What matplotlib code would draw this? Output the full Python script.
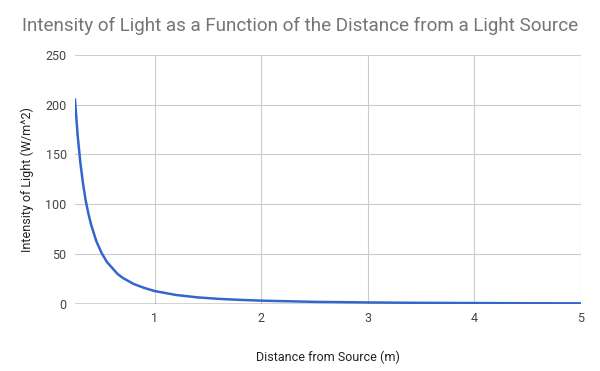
import matplotlib
matplotlib.use('Agg')
import matplotlib.pyplot as plt

plt.rcParams['font.family'] = ['Roboto', 'DejaVu Sans']

# values
distance = [0.25, 0.275, 0.3, 0.325, 0.35, 0.375, 0.4, 0.45, 0.5, 0.55, 0.6, 0.65,
            0.7, 0.75, 0.8, 0.9, 1.0, 1.2, 1.4, 1.6, 1.8, 2.0, 2.5, 3.0, 3.5,
            4.0, 4.5, 5.0]
intensity = [205, 169, 142, 121, 104, 91, 80, 63, 51, 42, 36, 30,
             26, 23, 20, 16, 12.8, 8.9, 6.5, 5.0, 4.0, 3.2, 2.0, 1.4, 1.0,
             0.8, 0.6, 0.5]
xticks = [1, 2, 3, 4, 5]
yticks = [0, 50, 100, 150, 200, 250]

fig = plt.figure(figsize=(6, 3.71), dpi=100)
ax = fig.add_axes([0.125, 0.181, 0.843, 0.671])

ax.plot(distance, intensity, color='#3366cc', lw=1.8, zorder=3)
ax.axhline(0, color='#333333', lw=1, zorder=2)

ax.set_xlim(0.25, 5)
ax.set_ylim(0, 250)
ax.set_xticks(xticks)
ax.set_yticks(yticks)
ax.grid(True, color='#cccccc', lw=0.8)
for s in ax.spines.values():
    s.set_visible(False)
ax.tick_params(length=0, colors='#444444', labelsize=9, pad=6)

ax.set_xlabel('Distance from Source (m)', fontsize=9, color='#222222', labelpad=18)
ax.set_ylabel('Intensity of Light (W/m^2)', fontsize=9, color='#222222', labelpad=8)
fig.suptitle('Intensity of Light as a Function of the Distance from a Light Source',
             x=0.5, y=0.955, fontsize=13.6, color='#757575')

fig.savefig('out.png', dpi=100)
